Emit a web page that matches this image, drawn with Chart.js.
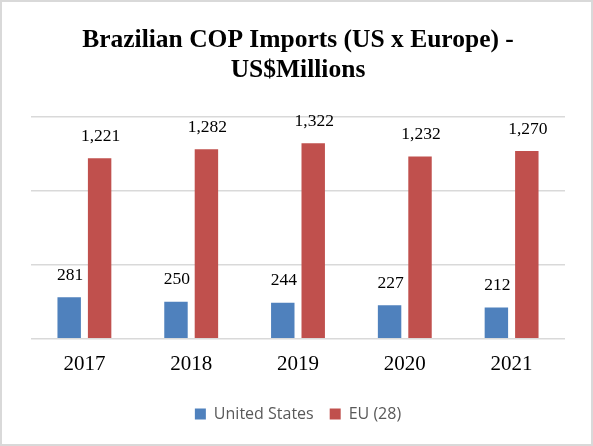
<!DOCTYPE html>
<html>
<head>
    <title>Brazilian COP Imports</title>
    <script src="https://cdn.jsdelivr.net/npm/chart.js"></script>
    <style>
        body { margin: 0; background: #fff; }
        .wrap { position: relative; width: 593px; height: 446px; }
        .frame {
            position: absolute; left: 0; top: 0; width: 593px; height: 446px;
            box-sizing: border-box; border: 2px solid #d9d9d9; pointer-events: none;
        }
    </style>
</head>
<body>
<div class="wrap">
    <canvas id="chart" width="593" height="446"></canvas>
    <div class="frame"></div>
</div>

<script>
    const years = ["2017", "2018", "2019", "2020", "2021"];
    const usValues = [281, 250, 244, 227, 212];
    const euValues = [1221, 1282, 1322, 1232, 1270];
    const seriesNames = ["United States", "EU (28)"];

    // value labels above each bar
    const barLabels = {
        id: "barLabels",
        afterDatasetsDraw(chart) {
            const ctx = chart.ctx;
            ctx.save();
            ctx.font = "17.5px 'Liberation Serif'";
            ctx.fillStyle = "#000";
            ctx.textAlign = "center";
            ctx.textBaseline = "middle";
            chart.data.datasets.forEach((ds, i) => {
                chart.getDatasetMeta(i).data.forEach((bar, j) => {
                    ctx.fillText(ds.data[j].toLocaleString("en-US"), bar.x + 1, bar.y - 22);
                });
            });
            ctx.restore();
        }
    };

    new Chart(document.getElementById("chart"), {
        type: "bar",
        data: {
            labels: years,
            datasets: [
                { label: seriesNames[0], data: usValues, backgroundColor: "#4f81bd",
                  categoryPercentage: 0.57, barPercentage: 0.77 },
                { label: seriesNames[1], data: euValues, backgroundColor: "#c0504d",
                  categoryPercentage: 0.57, barPercentage: 0.77 }
            ]
        },
        options: {
            responsive: false,
            animation: false,
            layout: { padding: { left: 31, right: 28, top: 0, bottom: 14 } },
            plugins: {
                title: {
                    display: true,
                    text: ["Brazilian COP Imports (US x Europe) -", "US$Millions"],
                    color: "#000",
                    font: { family: "'Liberation Serif'", size: 25.5, weight: "bold", lineHeight: 1.176 },
                    padding: { top: 25, bottom: 32 }
                },
                legend: {
                    position: "bottom",
                    labels: {
                        color: "#595959",
                        font: { family: "'Open Sans'", size: 16 },
                        boxWidth: 11, boxHeight: 11, padding: 16
                    }
                },
                tooltip: { enabled: false }
            },
            scales: {
                x: {
                    grid: { display: false, drawTicks: false },
                    border: { display: false },
                    ticks: {
                        color: "#000",
                        font: { family: "'Liberation Serif'", size: 21 },
                        padding: 13,
                        maxRotation: 0
                    }
                },
                y: {
                    min: 0, max: 1500,
                    ticks: { display: false, stepSize: 500 },
                    border: { display: false },
                    grid: { color: "#d9d9d9", lineWidth: 1.5, drawTicks: false },
                    afterFit: axis => { axis.width = 0; }
                }
            }
        },
        plugins: [barLabels]
    });
</script>
</body>
</html>
